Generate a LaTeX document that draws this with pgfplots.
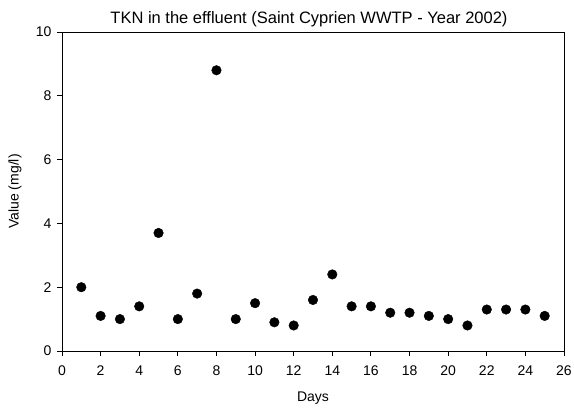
\documentclass[border=0pt]{standalone}
\usepackage{fontspec}
\setmainfont{Liberation Sans}
\usepackage{pgfplots}
\pgfplotsset{compat=1.18}
\begin{document}
\begin{tikzpicture}[x=1pt,y=1pt]
\path[use as bounding box] (0,0) rectangle (574,410);
\begin{axis}[
  at={(62pt,59pt)}, anchor=south west,
  scale only axis, width=502pt, height=319pt,
  xmin=0, xmax=26, ymin=0, ymax=10,
  xtick={0,2,...,26}, ytick={0,2,...,10},
  tick align=outside, xtick pos=bottom, ytick pos=left,
  major tick length=5pt,
  axis line style={line width=0.9pt}, every tick/.style={black, line width=0.9pt},
  /pgf/number format/assume math mode=true,
  tick label style={font=\fontsize{14}{16}\selectfont},
  xticklabel style={yshift=-6pt},
  yticklabel style={xshift=-2pt},
  xlabel={Days}, ylabel={Value (mg/l)},
  xlabel style={font=\fontsize{14}{16}\selectfont, at={(axis description cs:0.5,0)}, anchor=center, yshift=-47pt},
  ylabel style={font=\fontsize{14}{16}\selectfont, at={(axis description cs:-0.0936,0.5)}, anchor=center},
  title={TKN in the effluent (Saint Cyprien WWTP - Year 2002)},
  title style={font=\fontsize{16.5}{18}\selectfont, at={(axis description cs:0.5,1)}, anchor=center, yshift=7pt, xshift=-4pt},
]
\addplot[only marks, mark=*, mark size=4.8pt, black] coordinates {
(1,2.0) (2,1.1) (3,1.0) (4,1.4) (5,3.7) (6,1.0) (7,1.8) (8,8.8) (9,1.0) (10,1.5)
(11,0.9) (12,0.8) (13,1.6) (14,2.4) (15,1.4) (16,1.4) (17,1.2) (18,1.2) (19,1.1)
(20,1.0) (21,0.8) (22,1.3) (23,1.3) (24,1.3) (25,1.1)
};
\end{axis}
\end{tikzpicture}
\end{document}
